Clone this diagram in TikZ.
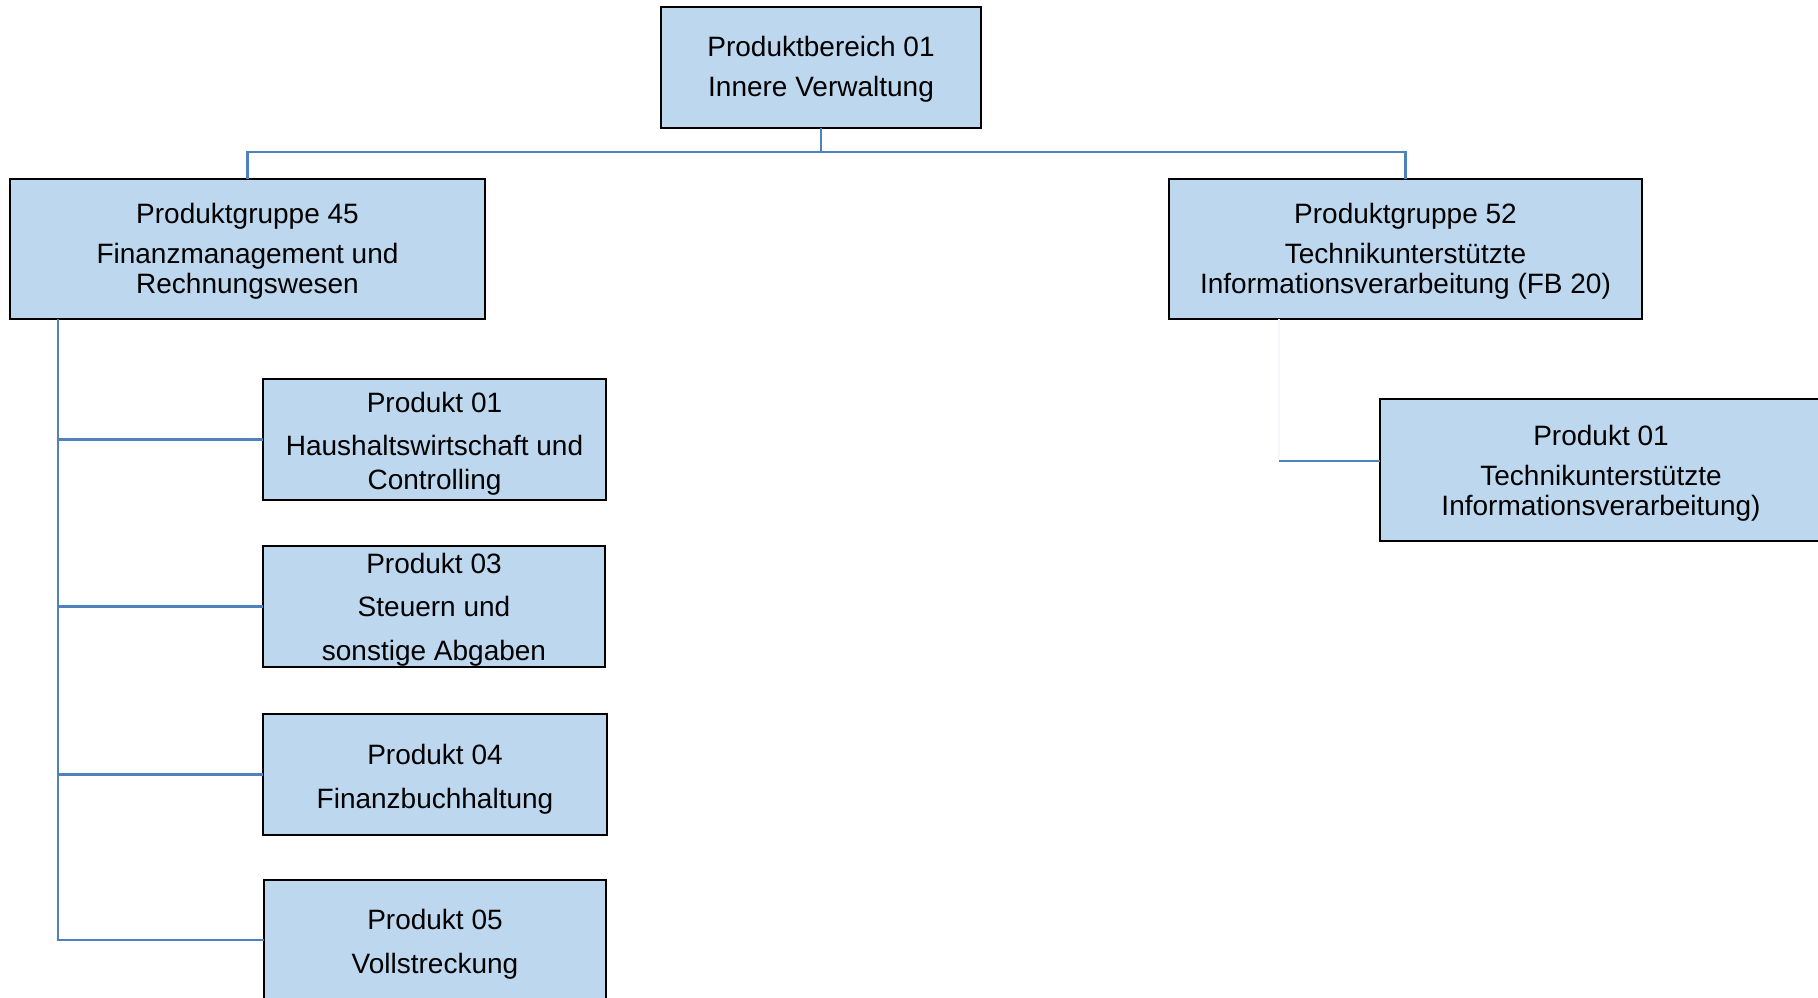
\documentclass[tikz,border=0pt]{standalone}
\usepackage{fontspec}
\setmainfont{Liberation Sans}
\definecolor{boxfill}{RGB}{189,215,238}
\definecolor{conncol}{RGB}{79,129,189}
\definecolor{faintcol}{RGB}{244,247,251}
\newcommand\toppad[1]{\rule{0pt}{#1}}
\tikzset{
  orgbox/.style={draw=black, line width=2.5pt, fill=boxfill, align=center,
    inner sep=0pt, outer sep=0pt, font=\fontsize{28}{30}\selectfont},
  conn/.style={draw=conncol, line width=2.2pt},
  faintconn/.style={draw=faintcol, line width=2pt}
}
\begin{document}
\begin{tikzpicture}[x=1pt,y=-1pt]
\useasboundingbox (0,0) rectangle (1818,998);
\node[orgbox, minimum width=320, minimum height=121] (top) at (821,67.5)
  {\toppad{23pt}Produktbereich 01\\[10pt]Innere Verwaltung};
\node[orgbox, minimum width=475, minimum height=140] (pg45) at (247.5,249)
  {\toppad{25pt}Produktgruppe 45\\[10pt]Finanzmanagement und\\Rechnungswesen};
\node[orgbox, minimum width=473, minimum height=140] (pg52) at (1405.5,249)
  {\toppad{25pt}Produktgruppe 52\\[10pt]Technikunterstützte\\Informationsverarbeitung (FB 20)};
\node[orgbox, minimum width=343, minimum height=121] (p01) at (434.5,439.5)
  {\toppad{29pt}Produkt 01\\[13pt]Haushaltswirtschaft und\\[4pt]Controlling};
\node[orgbox, minimum width=342, minimum height=121] (p03) at (434,606.5)
  {\toppad{27pt}Produkt 03\\[13pt]Steuern und\\[14pt]sonstige Abgaben};
\node[orgbox, minimum width=344, minimum height=121] (p04) at (435,774.5)
  {\toppad{29pt}Produkt 04\\[14pt]Finanzbuchhaltung};
\node[orgbox, minimum width=342, minimum height=120] (p05) at (435,940)
  {\toppad{28pt}Produkt 05\\[14pt]Vollstreckung};
\node[orgbox, minimum width=442, minimum height=142] (rp01) at (1601,470)
  {\toppad{27pt}Produkt 01\\[10pt]Technikunterstützte\\Informationsverarbeitung)};
% top connectors
\coordinate (bus) at (0,152);
\draw[conn] (top.south) -- (top.south |- bus) -| (pg45.north);
\draw[conn] (top.south |- bus) -| (pg52.north);
% left trunk
\coordinate (trunk) at (58,0);
\draw[conn] (pg45.south -| trunk) |- (p05.west);
\draw[conn] (p01.west -| trunk) -- (p01.west);
\draw[conn] (p03.west -| trunk) -- (p03.west);
\draw[conn] (p04.west -| trunk) -- (p04.west);
% right branch
\coordinate (rj) at (1279,461);
\draw[faintconn] (pg52.south -| rj) -- (rj);
\draw[conn] (rj) -- (rj -| rp01.west);
\end{tikzpicture}
\end{document}
